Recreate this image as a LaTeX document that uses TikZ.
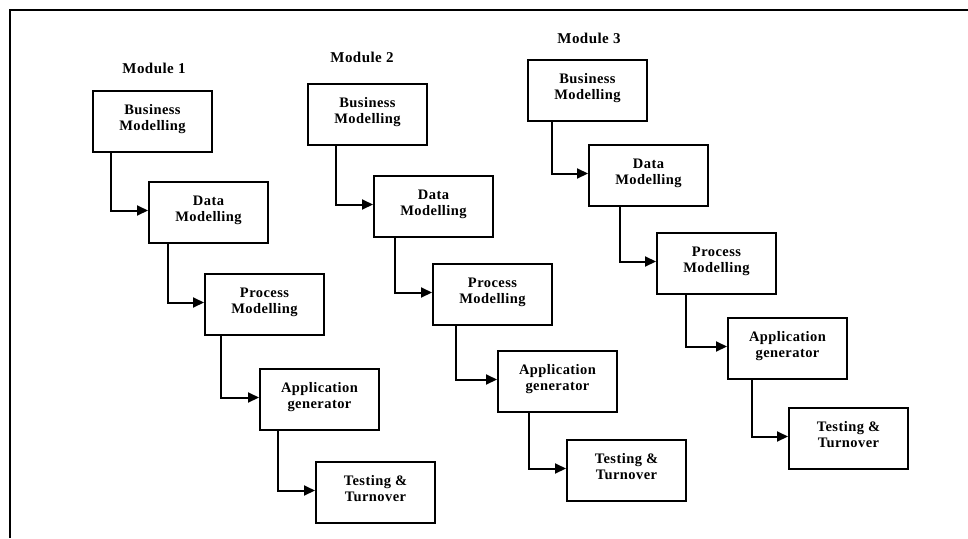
\documentclass[tikz,border=0pt]{standalone}
\usepackage{fontspec}
\setmainfont{Liberation Serif}[LetterSpace=3]
\usetikzlibrary{arrows.meta}
\tikzset{
  stepbox/.style={draw, line width=2pt, minimum width=119pt, minimum height=61pt,
    inner sep=0pt, align=center, font=\fontsize{14.5}{16}\selectfont\bfseries, anchor=north west,
    text depth=8pt},
  modlabel/.style={font=\fontsize{15}{17}\selectfont\bfseries, inner sep=0pt},
  flow/.style={line width=2pt, -{Triangle[length=11pt,width=10pt]}},
  frameline/.style={line width=2pt}
}
\newcommand{\arrowlink}[3]{\draw[flow] ([xshift=#3pt]#1.south west) |- ([yshift=2pt]#2.west);}
\begin{document}
\begin{tikzpicture}[x=1pt,y=-1pt]
\useasboundingbox (0,0) rectangle (968,538);
\draw[frameline] (10,538) -- (10,10) -- (968,10);

% Module 1
\node[modlabel] (m1) at (154,68) {Module 1};
\node[stepbox] (bm1) at (92,90) {Business\\Modelling};
\node[stepbox] (dm1) at (148,181) {Data\\Modelling};
\node[stepbox] (pm1) at (204,273) {Process\\Modelling};
\node[stepbox] (ag1) at (259,368) {Application\\generator};
\node[stepbox] (tt1) at (315,461) {Testing \&\\Turnover};
\arrowlink{bm1}{dm1}{19}
\arrowlink{dm1}{pm1}{20}
\arrowlink{pm1}{ag1}{17}
\arrowlink{ag1}{tt1}{19}

% Module 2
\node[modlabel] (m2) at (362,57) {Module 2};
\node[stepbox] (bm2) at (307,83) {Business\\Modelling};
\node[stepbox] (dm2) at (373,175) {Data\\Modelling};
\node[stepbox] (pm2) at (432,263) {Process\\Modelling};
\node[stepbox] (ag2) at (497,350) {Application\\generator};
\node[stepbox] (tt2) at (566,439) {Testing \&\\Turnover};
\arrowlink{bm2}{dm2}{29}
\arrowlink{dm2}{pm2}{22}
\arrowlink{pm2}{ag2}{24}
\arrowlink{ag2}{tt2}{32}

% Module 3
\node[modlabel] (m3) at (589,38) {Module 3};
\node[stepbox] (bm3) at (527,59) {Business\\Modelling};
\node[stepbox] (dm3) at (588,144) {Data\\Modelling};
\node[stepbox] (pm3) at (656,232) {Process\\Modelling};
\node[stepbox] (ag3) at (727,317) {Application\\generator};
\node[stepbox] (tt3) at (788,407) {Testing \&\\Turnover};
\arrowlink{bm3}{dm3}{25}
\arrowlink{dm3}{pm3}{32}
\arrowlink{pm3}{ag3}{30}
\arrowlink{ag3}{tt3}{25}
\end{tikzpicture}
\end{document}
